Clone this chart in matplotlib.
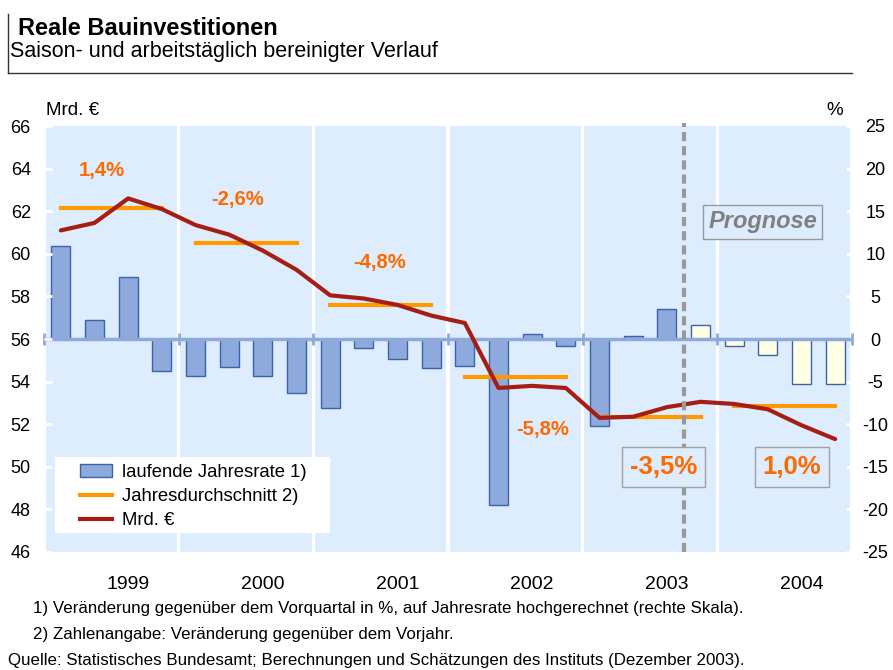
import numpy as np
import matplotlib
matplotlib.use("Agg")
import matplotlib.pyplot as plt
from matplotlib.lines import Line2D
from matplotlib.patches import Patch, Rectangle

plt.rcParams['font.family'] = ['Liberation Sans', 'DejaVu Sans']
plt.rcParams['axes.unicode_minus'] = False

# ---- data -------------------------------------------------------------
years = ['1999', '2000', '2001', '2002', '2003', '2004']

# laufende Jahresrate in % (right scale), one per quarter 1999Q1 .. 2004Q4
rate = [10.9, 2.2, 7.3, -3.7,
        -4.4, -3.3, -4.3, -6.3,
        -8.1, -1.0, -2.3, -3.4,
        -3.2, -19.5, 0.6, -0.8,
        -10.2, 0.4, 3.5, 1.6,
        -0.8, -1.9, -5.3, -5.3]

# Mrd. Euro level (left scale)
level = [61.1, 61.45, 62.6, 62.1,
         61.35, 60.9, 60.15, 59.25,
         58.05, 57.9, 57.6, 57.1,
         56.75, 53.7, 53.8, 53.7,
         52.3, 52.35, 52.8, 53.05,
         52.95, 52.7, 51.95, 51.3]

# Jahresdurchschnitt (left scale)
year_avg = [62.17, 60.5, 57.6, 54.22, 52.32, 52.85]
year_chg = ['1,4%', '-2,6%', '-4,8%', '-5,8%', '-3,5%', '1,0%']
chg_x = [1.22, 5.26, 9.48, 14.32, 17.91, 21.72]
chg_y = [63.93, 62.53, 59.57, 51.73, 50.0, 50.0]

n_fcst = 5  # last quarters are forecast (from 2003Q4)

# ---- figure -----------------------------------------------------------
W, H = 893, 670
fig = plt.figure(figsize=(W / 100, H / 100), dpi=100)

def px(x0, y0, x1, y1):
    return [x0 / W, 1 - y1 / H, (x1 - x0) / W, (y1 - y0) / H]

ax = fig.add_axes(px(44, 126, 852, 552))
ax2 = ax.twinx()
ax.set_zorder(ax2.get_zorder() + 1)
ax.patch.set_visible(False)
ax2.set_facecolor('white')

n = len(rate)
q = np.arange(n)

# light blue year bands with white gaps
for i in range(len(years)):
    ax2.axvspan(4 * i - 0.5 + 0.05, 4 * i + 3.5 - 0.05, color='#DDEDFD', lw=0, zorder=0)

# bars (right scale)
face = ['#8EA9DB'] * (n - n_fcst) + ['#FFFFE3'] * n_fcst
ax2.bar(q, rate, width=0.56, color=face, edgecolor='#3A63A8', lw=1, zorder=2)
ax2.axhline(0, color='#8EA9DB', lw=2.5, zorder=3)
ax2.plot(np.arange(-0.5, n, 4), np.zeros(len(years) + 1), ls='none', marker='|',
         ms=9, mew=2, color='#8EA9DB', zorder=3, clip_on=False)
ax2.set_ylim(-25, 25)
ax2.set_yticks(np.arange(-25, 26, 5))
ax2.tick_params(axis='y', direction='in', length=4, width=2, color='white',
                labelsize=13, pad=17)
for lab in ax2.get_yticklabels():
    lab.set_ha('center')

# level line and yearly averages (left scale)
ax.plot(q, level, color='#A51E14', lw=3, solid_capstyle='round', zorder=5)
for i, v in enumerate(year_avg):
    ax.plot([4 * i, 4 * i + 3], [v, v], color='#FF9900', lw=3, zorder=4)
ax.set_ylim(46, 66)
ax.set_yticks(np.arange(46, 67, 2))
ax.set_xlim(-0.5, n - 0.5)
ax.set_xticks(np.arange(2, n, 4))
ax.set_xticklabels(years, fontsize=14)
ax.tick_params(axis='x', length=0, pad=17)
ax.tick_params(axis='y', direction='in', length=6, width=2, color='white',
               labelsize=13, pad=9.5)
for a in (ax, ax2):
    for s in a.spines.values():
        s.set_visible(False)

# forecast divider
ax.axvline(n - n_fcst - 0.5, ymin=0, ymax=1.008, color='#999999', lw=3,
           ls=(0, (2.2, 1.2)), zorder=6, clip_on=False)

# yearly change labels
for i, (t, x, y) in enumerate(zip(year_chg, chg_x, chg_y)):
    if i < 4:
        ax.text(x, y, t, color='#FF6A00', fontsize=14.6, fontweight='bold',
                ha='center', va='center', zorder=7)
    else:
        ax.text(x, y, t, color='#FF6A00', fontsize=18.5, fontweight='bold',
                ha='center', va='center', zorder=7,
                bbox=dict(boxstyle='square,pad=0.3', fc='#DDEDFD', ec='#A0A0A0', lw=1))

ax.text(20.85, 61.5, 'Prognose', color='#808080', fontsize=17, fontweight='bold',
        fontstyle='italic', ha='center', va='center', zorder=7,
        bbox=dict(boxstyle='square,pad=0.22', fc='#DDEDFD', ec='#999999', lw=1))

# legend on a white panel
fig.add_artist(Rectangle((55 / W, 1 - 533 / H), 275 / W, 76 / H,
                         fc='white', ec='none', zorder=7))
handles = [Patch(fc='#8EA9DB', ec='#3A63A8', lw=1),
           Line2D([], [], color='#FF9900', lw=3),
           Line2D([], [], color='#A51E14', lw=3)]
labels = ['laufende Jahresrate 1)', 'Jahresdurchschnitt 2)', 'Mrd. €']
leg = fig.legend(handles, labels, loc='upper left',
                 bbox_to_anchor=(80 / W, 1 - 464 / H),
                 fontsize=13.3, frameon=False, handlelength=1.73, borderpad=0,
                 borderaxespad=0, labelspacing=0.38, handletextpad=0.55)
leg.set_zorder(8)

# axis unit labels
fig.text(46 / W, 1 - 115 / H, 'Mrd. €', fontsize=13.5, va='baseline')
fig.text(843 / W, 1 - 115 / H, '%', fontsize=13.5, va='baseline', ha='right')

# title block
fig.text(18 / W, 1 - 35 / H, 'Reale Bauinvestitionen', fontsize=17,
         fontweight='bold', va='baseline')
fig.text(10 / W, 1 - 57 / H, 'Saison- und arbeitstäglich bereinigter Verlauf',
         fontsize=15.5, va='baseline')
fig.add_artist(Line2D([7.5 / W, 7.5 / W], [1 - 14 / H, 1 - 73 / H], color='#333333', lw=1))
fig.add_artist(Line2D([7.5 / W, 852 / W], [1 - 73 / H, 1 - 73 / H], color='#333333', lw=1))

# footnotes
fig.text(33 / W, 1 - 608 / H,
         '1) Veränderung gegenüber dem Vorquartal in %, auf Jahresrate hochgerechnet (rechte Skala).',
         fontsize=12.2, va='center')
fig.text(33 / W, 1 - 634 / H, '2) Zahlenangabe: Veränderung gegenüber dem Vorjahr.',
         fontsize=12.2, va='center')
fig.text(8 / W, 1 - 660 / H,
         'Quelle: Statistisches Bundesamt; Berechnungen und Schätzungen des Instituts (Dezember 2003).',
         fontsize=12.2, va='center')

fig.savefig('out.png', dpi=100)
